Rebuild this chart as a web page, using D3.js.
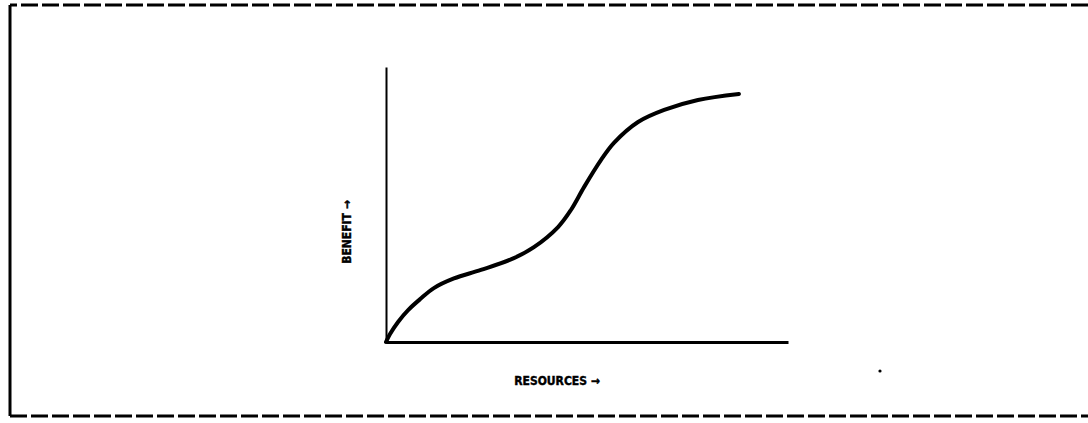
<!DOCTYPE html>
<html>
<head>
    <script src="https://d3js.org/d3.v7.min.js"></script>
    <style>
        body { margin: 0; background: #fff; }
    </style>
</head>
<body>
    <svg id="chart" width="1088" height="423"></svg>
    <script>
        // curve, resources vs benefit (0..100, no units)
        const resources = [0, 1.0, 3.0, 5.5, 8.5, 11.9, 16.9, 23.6, 31.8, 36.8, 42.8, 46.0, 49.3, 53.5, 56.7, 62.7, 69.2, 77.6, 87.8];
        const benefit   = [0, 2.9, 7.3, 11.6, 15.6, 19.6, 23.1, 26.2, 30.5, 34.5, 41.8, 48.0, 56.4, 66.2, 72.4, 80.0, 84.4, 88.0, 90.2];
        const xLabel = "RESOURCES \u2192";
        const yLabel = "BENEFIT \u2192";

        const svg = d3.select("#chart");

        // dashed frame, open on the right side
        svg.append("path")
           .attr("d", "M1088,5 L10,5")
           .attr("fill", "none").attr("stroke", "#000")
           .attr("stroke-width", 3).attr("stroke-dasharray", "17,4");
        svg.append("path")
           .attr("d", "M10,5 L10,416")
           .attr("fill", "none").attr("stroke", "#000")
           .attr("stroke-width", 3);
        svg.append("path")
           .attr("d", "M10,416 L1088,416")
           .attr("fill", "none").attr("stroke", "#000")
           .attr("stroke-width", 3).attr("stroke-dasharray", "17,4");

        const x = d3.scaleLinear().domain([0, 100]).range([386, 788]);
        const y = d3.scaleLinear().domain([0, 100]).range([342, 67]);

        // axes drawn as plain lines (no ticks)
        const xAxis = d3.axisBottom(x).tickValues([]).tickSizeOuter(0);
        const yAxis = d3.axisLeft(y).tickValues([]).tickSizeOuter(0);
        svg.append("g").attr("transform", `translate(0,${y(0)})`).call(xAxis)
           .select(".domain").attr("stroke-width", 3);
        svg.append("g").attr("transform", `translate(${x(0)},0)`).call(yAxis)
           .select(".domain").attr("stroke-width", 2);

        const pts = resources.map((r, i) => ({r: r, b: benefit[i]}));
        const line = d3.line()
            .x(d => x(d.r))
            .y(d => y(d.b))
            .curve(d3.curveCatmullRom.alpha(0.5));

        svg.append("path").datum(pts)
           .attr("d", line)
           .attr("fill", "none")
           .attr("stroke", "#000")
           .attr("stroke-width", 4)
           .attr("stroke-linecap", "round");

        svg.append("text")
           .attr("x", 557).attr("y", 385)
           .attr("text-anchor", "middle")
           .attr("font-family", "DejaVu Sans Condensed, DejaVu Sans, sans-serif")
           .attr("font-weight", "bold").attr("font-size", 12)
           .attr("stroke", "#000").attr("stroke-width", 0.4)
           .text(xLabel);

        svg.append("text")
           .attr("transform", "translate(351,232) rotate(-90)")
           .attr("text-anchor", "middle")
           .attr("font-family", "DejaVu Sans Condensed, DejaVu Sans, sans-serif")
           .attr("font-weight", "bold").attr("font-size", 12)
           .attr("stroke", "#000").attr("stroke-width", 0.4)
           .text(yLabel);

        // stray speck on the scan
        svg.append("circle").attr("cx", 880).attr("cy", 371).attr("r", 1.6).attr("fill", "#000");
    </script>
</body>
</html>
